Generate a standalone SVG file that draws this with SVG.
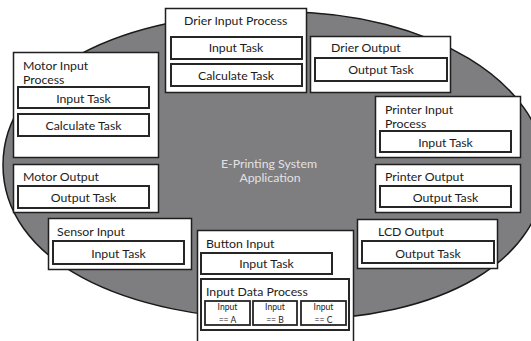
<svg xmlns="http://www.w3.org/2000/svg" width="531" height="341" viewBox="0 0 531 341">
  <style>
    .app { fill: #7e7d80; stroke: #1a1a1a; stroke-width: 1.5; }
    .box { fill: #ffffff; stroke: #1f1f1f; stroke-width: 1.5; }
    .task { fill: #ffffff; stroke: #262626; stroke-width: 2; }
    .sub { fill: #ffffff; stroke: #262626; stroke-width: 1.8; }
    text { font-family: Lato, "Open Sans", sans-serif; font-size: 12.3px; fill: #1c1c1c; }
    .c { text-anchor: middle; }
    .title { fill: #e2e2e2; text-anchor: middle; }
    .small { font-size: 8.6px; text-anchor: middle; }
  </style>

  <!-- application boundary -->
  <g id="application">
    <path class="app" d="M3,165 C3,73 116,12 285,12 C428,12 545,83 545,170 C545,260 443,320 290,320 C118,320 3,258 3,165 Z"/>
    <text class="title" x="269" y="168">E-Printing System</text>
    <text class="title" x="270" y="182">Application</text>
  </g>

  <!-- no connectors are drawn between the processes -->
  <g id="connectors"/>

  <g id="drier-input-process">
    <rect class="box" x="165.5" y="8.5" width="141" height="84"/>
    <text x="184" y="25">Drier Input Process</text>
    <rect class="task" x="171" y="37" width="131" height="22"/>
    <text class="c" x="236" y="52">Input Task</text>
    <rect class="task" x="171" y="64" width="131" height="22"/>
    <text class="c" x="236" y="80">Calculate Task</text>
  </g>

  <g id="drier-output">
    <rect class="box" x="310.5" y="36.5" width="140" height="56"/>
    <text x="331" y="52">Drier Output</text>
    <rect class="task" x="315" y="58" width="132" height="23"/>
    <text class="c" x="381" y="74">Output Task</text>
  </g>

  <g id="motor-input-process">
    <rect class="box" x="13.5" y="52.5" width="145" height="105"/>
    <text x="23" y="70">Motor Input</text>
    <text x="23" y="84">Process</text>
    <rect class="task" x="18" y="87" width="131" height="21"/>
    <text class="c" x="83.5" y="103">Input Task</text>
    <rect class="task" x="18" y="114" width="131" height="22"/>
    <text class="c" x="83.5" y="130">Calculate Task</text>
  </g>

  <g id="motor-output">
    <rect class="box" x="13.5" y="164.5" width="145" height="48"/>
    <text x="23" y="181">Motor Output</text>
    <rect class="task" x="18" y="186" width="131" height="22"/>
    <text class="c" x="83.5" y="202">Output Task</text>
  </g>

  <g id="printer-input-process">
    <rect class="box" x="375.5" y="96.5" width="145" height="61"/>
    <text x="385" y="114">Printer Input</text>
    <text x="385" y="128">Process</text>
    <rect class="task" x="380" y="131" width="131" height="21"/>
    <text class="c" x="445.5" y="147">Input Task</text>
  </g>

  <g id="printer-output">
    <rect class="box" x="375.5" y="164.5" width="145" height="48"/>
    <text x="385" y="181">Printer Output</text>
    <rect class="task" x="380" y="186" width="131" height="21"/>
    <text class="c" x="445.5" y="202">Output Task</text>
  </g>

  <g id="sensor-input">
    <rect class="box" x="48.5" y="218.5" width="143" height="51"/>
    <text x="57" y="236">Sensor Input</text>
    <rect class="task" x="53" y="241" width="131" height="23"/>
    <text class="c" x="118.5" y="258">Input Task</text>
  </g>

  <g id="lcd-output">
    <rect class="box" x="357.5" y="219.5" width="140" height="49"/>
    <text x="378" y="236">LCD Output</text>
    <rect class="task" x="362" y="241" width="132" height="22"/>
    <text class="c" x="428" y="258">Output Task</text>
  </g>

  <g id="button-input">
    <rect class="box" x="197.5" y="230.5" width="156" height="115"/>
    <text x="206" y="248">Button Input</text>
    <rect class="task" x="201" y="253" width="131" height="21"/>
    <text class="c" x="266.5" y="268">Input Task</text>
    <g id="input-data-process">
      <rect class="task" x="201" y="279" width="148" height="51"/>
      <text x="206" y="296">Input Data Process</text>
      <rect class="sub" x="205" y="301" width="45" height="24"/>
      <text class="small" x="227.5" y="310">Input</text>
      <text class="small" x="227.5" y="323">== A</text>
      <rect class="sub" x="253" y="301" width="44" height="24"/>
      <text class="small" x="275" y="310">Input</text>
      <text class="small" x="275" y="323">== B</text>
      <rect class="sub" x="301" y="301" width="45" height="24"/>
      <text class="small" x="323.5" y="310">Input</text>
      <text class="small" x="323.5" y="323">== C</text>
    </g>
  </g>
</svg>
